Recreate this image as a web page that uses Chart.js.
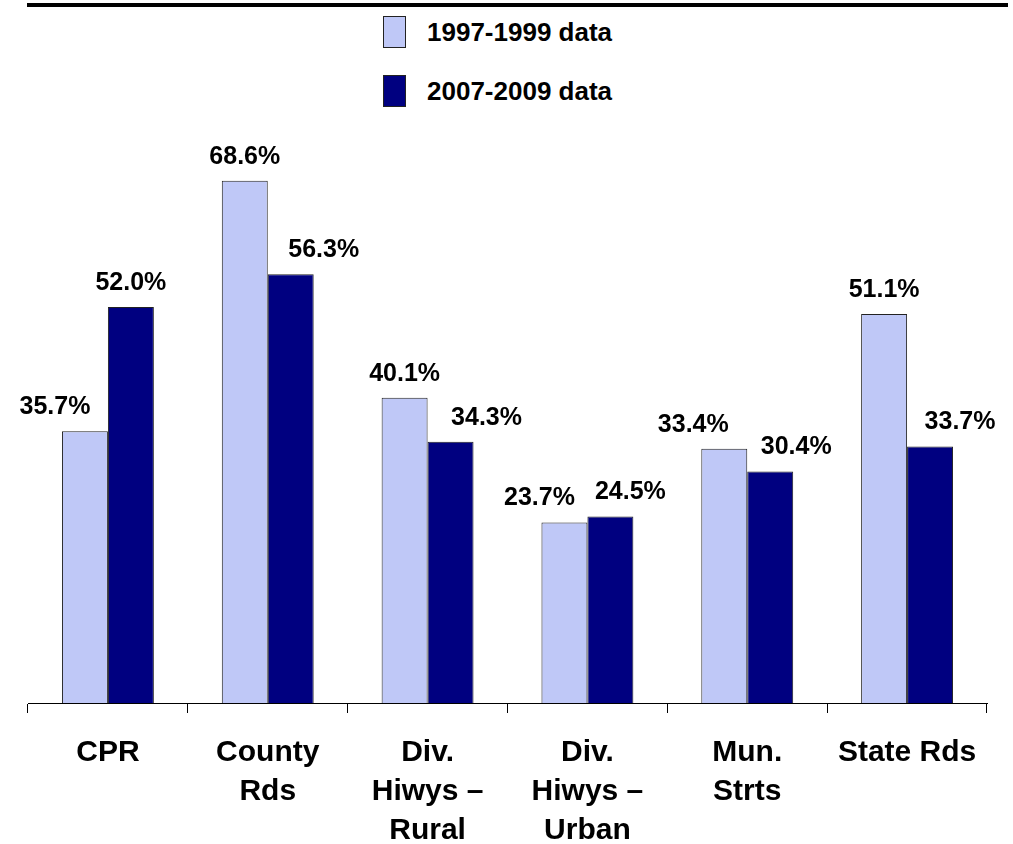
<!DOCTYPE html>
<html>
<head>
<meta charset="utf-8">
<script src="https://cdn.jsdelivr.net/npm/chart.js@4"></script>
<style>
  html, body { margin: 0; padding: 0; background: #fff; }
  #wrap { position: relative; width: 1013px; height: 844px; font-family: "Liberation Sans", Arial, sans-serif; }
  #rule { position: absolute; left: 27px; top: 3px; width: 981px; height: 4px; background: #000; }
  .leg { position: absolute; left: 383px; height: 32px; display: flex; align-items: center; }
  .leg .sw { width: 21px; height: 30px; border: 1px solid #222; box-sizing: content-box; }
  .leg .tx { margin-left: 21px; font-weight: bold; font-size: 26px; color: #000; }
  canvas { position: absolute; left: 0; top: 0; }
</style>
</head>
<body>
<div id="wrap">
  <div id="rule"></div>
  <div class="leg" style="top:16px"><span class="sw" id="sw0"></span><span class="tx" id="lg0"></span></div>
  <div class="leg" style="top:75px"><span class="sw" id="sw1"></span><span class="tx" id="lg1"></span></div>
  <canvas id="c" width="1013" height="844"></canvas>
</div>
<script>
  // ── data ──────────────────────────────────────────────────────
  const categories = [
    ["CPR"],
    ["County", "Rds"],
    ["Div.", "Hiwys –", "Rural"],
    ["Div.", "Hiwys –", "Urban"],
    ["Mun.", "Strts"],
    ["State Rds"],
  ];
  const seriesNames = ["1997-1999 data", "2007-2009 data"];
  const data9799 = [35.7, 68.6, 40.1, 23.7, 33.4, 51.1];
  const data0709 = [52.0, 56.3, 34.3, 24.5, 30.4, 33.7];

  // ── look ──────────────────────────────────────────────────────
  const light = "#BFC8F7";
  const navy  = "#000080";
  const FONT  = "'Liberation Sans', Arial, sans-serif";

  // hand-placed label nudges (px), like the original sheet
  const labelNudge = [
    [-30, 0, 0, -25, -31, 0],
    [0, 33, 36, 20, 26, 30],
  ];

  document.getElementById("sw0").style.background = light;
  document.getElementById("sw1").style.background = navy;
  document.getElementById("lg0").textContent = seriesNames[0];
  document.getElementById("lg1").textContent = seriesNames[1];

  const valueLabels = {
    id: "valueLabels",
    afterDatasetsDraw(chart) {
      const ctx = chart.ctx;
      ctx.save();
      ctx.font = "bold 25px " + FONT;
      ctx.fillStyle = "#000";
      ctx.textAlign = "center";
      ctx.textBaseline = "middle";
      chart.data.datasets.forEach((ds, di) => {
        chart.getDatasetMeta(di).data.forEach((bar, i) => {
          ctx.fillText(ds.data[i].toFixed(1) + "%", bar.x + labelNudge[di][i], bar.y - 24);
        });
      });
      ctx.restore();
    },
  };

  new Chart(document.getElementById("c"), {
    type: "bar",
    data: {
      labels: categories,
      datasets: [
        { label: seriesNames[0], data: data9799, backgroundColor: light, borderColor: "#222", borderWidth: 1 },
        { label: seriesNames[1], data: data0709, backgroundColor: navy,  borderColor: "#222", borderWidth: 1 },
      ],
    },
    options: {
      responsive: false,
      animation: false,
      barPercentage: 1,
      categoryPercentage: 0.575,
      layout: { padding: { left: 28, right: 26, top: 132, bottom: 0 } },
      plugins: { legend: { display: false }, tooltip: { enabled: false } },
      scales: {
        x: {
          afterFit: (s) => { s.height = 141; },
          border: { display: true, color: "#000", width: 1 },
          grid: { drawOnChartArea: false, drawTicks: true, tickLength: 10, color: "#000", offset: true },
          ticks: { color: "#000", padding: 20, maxRotation: 0, autoSkip: false,
                   font: { family: FONT, size: 30, weight: "bold", lineHeight: 1.3 } },
        },
        y: { display: false, min: 0, max: 75 },
      },
    },
    plugins: [valueLabels],
  });
</script>
</body>
</html>
